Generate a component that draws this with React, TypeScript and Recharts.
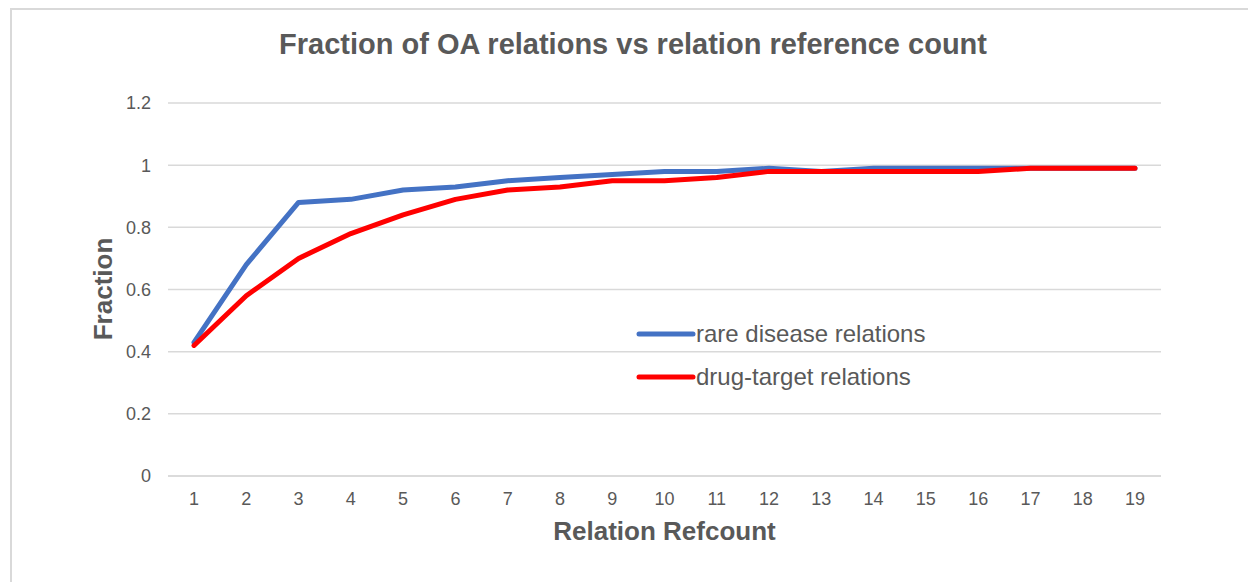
import { LineChart, Line, XAxis, YAxis, CartesianGrid, Legend } from "recharts";

const refcounts = [1, 2, 3, 4, 5, 6, 7, 8, 9, 10, 11, 12, 13, 14, 15, 16, 17, 18, 19];
const rareDisease = [0.43, 0.68, 0.88, 0.89, 0.92, 0.93, 0.95, 0.96, 0.97, 0.98, 0.98, 0.99, 0.98, 0.99, 0.99, 0.99, 0.99, 0.99, 0.99];
const drugTarget = [0.42, 0.58, 0.7, 0.78, 0.84, 0.89, 0.92, 0.93, 0.95, 0.95, 0.96, 0.98, 0.98, 0.98, 0.98, 0.98, 0.99, 0.99, 0.99];
const yTicks = [0, 0.2, 0.4, 0.6, 0.8, 1, 1.2];

const series = [
  { key: "rare", name: "rare disease relations", color: "#4472C4" },
  { key: "drug", name: "drug-target relations", color: "#FF0000" },
];

const data = refcounts.map((n, i) => ({ n, rare: rareDisease[i], drug: drugTarget[i] }));

const FONT = '"Liberation Sans", Arial, sans-serif';
const TXT = "#595959";

function LegendBox() {
  return (
    <div style={{ fontFamily: FONT, fontSize: 24, color: TXT }}>
      {series.map((s) => (
        <div key={s.key} style={{ display: "flex", alignItems: "center", height: 43 }}>
          <svg width={60} height={10}>
            <line x1={3} y1={5} x2={57} y2={5} stroke={s.color} strokeWidth={5} strokeLinecap="round" />
          </svg>
          <span>{s.name}</span>
        </div>
      ))}
    </div>
  );
}

export default function App() {
  return (
    <div style={{ position: "absolute", left: 0, top: 0, width: 1248, height: 582, overflow: "hidden", background: "#fff" }}>
      <div style={{ position: "absolute", left: 10, top: 8, width: 1300, height: 700, border: "2px solid #d9d9d9" }} />
      <div style={{ position: "absolute", left: 0, width: 1266, top: 28, textAlign: "center", fontFamily: FONT, fontWeight: "bold", fontSize: 29, color: TXT }}>
        Fraction of OA relations vs relation reference count
      </div>
      <div style={{ position: "absolute", left: 168, width: 993, top: 516, textAlign: "center", fontFamily: FONT, fontWeight: "bold", fontSize: 26, color: TXT }}>
        Relation Refcount
      </div>
      <div style={{ position: "absolute", left: 103, top: 289, transform: "translate(-50%, -50%) rotate(-90deg)", whiteSpace: "nowrap", fontFamily: FONT, fontWeight: "bold", fontSize: 26, color: TXT }}>
        Fraction
      </div>
      <div style={{ position: "absolute", left: 0, top: 0 }}>
        <LineChart width={1248} height={582} data={data} margin={{ top: 103, right: 87, bottom: 76, left: 108 }}>
          <CartesianGrid vertical={false} stroke="#d9d9d9" strokeWidth={1.5} />
          <XAxis
            dataKey="n"
            height={30}
            padding={{ left: 26, right: 26 }}
            axisLine={{ stroke: "#d9d9d9", strokeWidth: 1.5 }}
            tickLine={false}
            tickSize={0}
            tickMargin={16}
            tick={{ fill: TXT, fontSize: 18, fontFamily: FONT }}
            interval={0}
          />
          <YAxis
            width={60}
            domain={[0, 1.2]}
            ticks={yTicks}
            axisLine={false}
            tickLine={false}
            tickSize={0}
            tickMargin={17}
            tick={{ fill: TXT, fontSize: 18, fontFamily: FONT }}
          />
          <Legend
            layout="vertical"
            align="center"
            verticalAlign="middle"
            wrapperStyle={{ left: 636, top: 312, width: "auto" }}
            content={() => <LegendBox />}
          />
          {series.map((s) => (
            <Line
              key={s.key}
              dataKey={s.key}
              name={s.name}
              stroke={s.color}
              strokeWidth={5}
              strokeLinecap="round"
              strokeLinejoin="round"
              dot={false}
              activeDot={false}
              isAnimationActive={false}
            />
          ))}
        </LineChart>
      </div>
    </div>
  );
}
